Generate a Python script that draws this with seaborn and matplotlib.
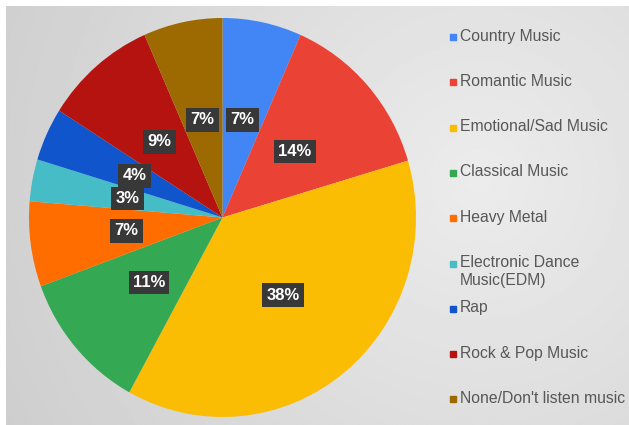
import numpy as np
import matplotlib
matplotlib.use("Agg")
import matplotlib.pyplot as plt
import seaborn as sns
from matplotlib.patches import Rectangle

categories = ["Country Music", "Romantic Music", "Emotional/Sad Music",
              "Classical Music", "Heavy Metal", "Electronic Dance\nMusic(EDM)",
              "Rap", "Rock & Pop Music", "None/Don't listen music"]
shares = [6.6, 13.8, 37.6, 11.4, 6.9, 3.4, 4.3, 9.4, 6.6]
colors = ["#4285F4", "#EA4335", "#FBBC04", "#34A853", "#FF6D01",
          "#46BDC6", "#1155CC", "#B5130F", "#9C6A00"]

sns.set_theme(style="white")
plt.rcParams['font.family'] = ['Liberation Sans', 'DejaVu Sans']
palette = sns.color_palette(colors)

W, H = 629, 425
fig = plt.figure(figsize=(W / 100, H / 100), dpi=100)
fig.patch.set_facecolor("white")

# background panel with soft gradient
bg = fig.add_axes([0, 0, 1, 1], zorder=-1)
bg.set_xlim(0, W)
bg.set_ylim(H, 0)
bg.axis("off")
xx, yy = np.meshgrid(np.linspace(6, W, 320), np.linspace(6, H, 220))
d = np.sqrt((xx - 480) ** 2 + (yy - 180) ** 2)
val = np.clip(0.925 - 0.00022 * d, 0, 1)
bg.imshow(val, cmap="gray", vmin=0, vmax=1, extent=(6, W, H, 6),
          aspect="auto", interpolation="bilinear", zorder=0)

# pie (slightly taller than wide, as in the reference)
cx, cy, rx, ry = 222.5, 217.5, 193.5, 199.5
ax = fig.add_axes([(cx - rx) / W, (H - cy - ry) / H, 2 * rx / W, 2 * ry / H])
ax.set_facecolor("none")
wedges, texts, autotexts = ax.pie(
    shares, colors=palette, startangle=90, counterclock=False,
    autopct="%.0f%%", pctdistance=0.5,
    wedgeprops=dict(linewidth=0),
    textprops=dict(color="white", fontsize=12, fontweight="bold"))
for t in autotexts:
    t.set_bbox(dict(boxstyle="square,pad=0.25", fc="#383838", ec="none"))
ax.set_xlim(-1, 1)
ax.set_ylim(-1, 1)
ax.set_aspect("auto")
ax.axis("off")

# legend
top = 37
step = 45.3
for i, (lab, col) in enumerate(zip(categories, palette)):
    y = top + i * step
    bg.add_patch(Rectangle((449.5, y - 3), 6, 6, color=col, zorder=2))
    bg.text(460, y - 8.5, lab, fontsize=11.3, color="#575757",
            va="top", ha="left", linespacing=1.25, zorder=2)

fig.savefig("out.png", dpi=100)
